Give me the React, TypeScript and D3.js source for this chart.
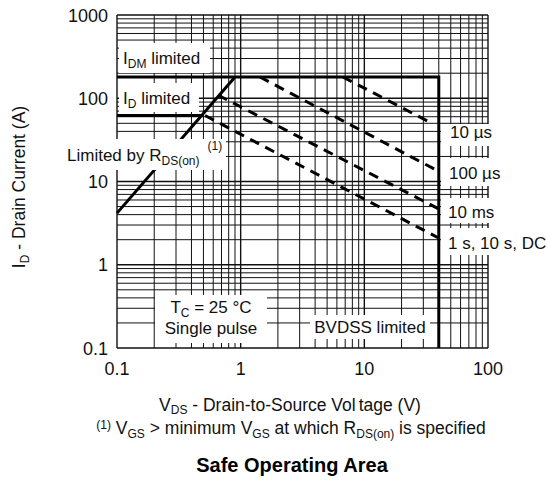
import React from "react";
import * as d3 from "d3";

// axis ticks
const xTickValues = [0.1, 1, 10, 100];
const yTickValues = [0.1, 1, 10, 100, 1000];

// limits
const idmLimit = 180; // A
const idLimit = 62; // A
const bvdss = 40; // V
const rdsV = [0.1, 0.9];
const rdsI = [4.17, 180];

// pulse lines (single pulse, Tc = 25 C)
const pulseLabels = ["10 µs", "100 µs", "10 ms", "1 s, 10 s, DC"];
const pulseStartV = [6.7, 1.43, 0.656, 0.515];
const pulseStartI = [180, 180, 109, 62];
const pulseEndV = [35.2, 38.6, 39.5, 39.5];
const pulseEndI = [50, 13.6, 4.73, 2.11];

const FONT = "'Liberation Sans', Arial, sans-serif";

const App = () => {
  const W = 548;
  const H = 481;
  const x = d3.scaleLog().domain([0.1, 100]).range([117, 488]);
  const y = d3.scaleLog().domain([0.1, 1000]).range([348, 15]);
  const line = d3
    .line<[number, number]>()
    .x((d) => x(d[0]))
    .y((d) => y(d[1]));

  const isDecade = (v: number) =>
    Math.abs(Math.log10(v) - Math.round(Math.log10(v))) < 1e-6;

  // where the I_D limit meets the R_DS(on) line
  const lv0 = Math.log10(rdsV[0]);
  const lv1 = Math.log10(rdsV[1]);
  const li0 = Math.log10(rdsI[0]);
  const li1 = Math.log10(rdsI[1]);
  const idCross = Math.pow(10, lv0 + ((Math.log10(idLimit) - li0) * (lv1 - lv0)) / (li1 - li0));

  const idPath = line([
    [0.1, idLimit],
    [idCross, idLimit],
  ]);
  const idmPath = line([
    [0.1, idmLimit],
    [bvdss, idmLimit],
    [bvdss, 0.1],
  ]);
  const rdsPath = line([
    [rdsV[0], rdsI[0]],
    [rdsV[1], rdsI[1]],
  ]);

  // white label boxes [x, y, w, h]
  const boxes = [
    [119, 43, 91, 30],
    [119, 83, 80, 29],
    [60, 139, 166, 31],
    [155, 295, 112, 48],
    [310, 315, 120, 24],
    [441, 124, 60, 22],
    [441, 158, 70, 28],
    [441, 198, 60, 25],
    [441, 228, 107, 27],
  ];
  const labelPos = [
    [450, 138],
    [449, 179],
    [448, 218],
    [448, 249],
  ];

  const fs = 17;
  const sub = 12;

  return (
    <div style={{ position: "absolute", left: 0, top: 0 }}>
      <svg width={W} height={H} style={{ display: "block", background: "#fff" }}>
        {/* grid */}
        <g>
          {x.ticks().map((t, i) => (
            <line
              key={"gx" + i}
              x1={x(t)}
              x2={x(t)}
              y1={y(0.1)}
              y2={y(1000)}
              stroke="#111"
              strokeWidth={isDecade(t) ? 1.4 : 1}
            />
          ))}
          {y.ticks().map((t, i) => (
            <line
              key={"gy" + i}
              x1={x(0.1)}
              x2={x(100)}
              y1={y(t)}
              y2={y(t)}
              stroke="#111"
              strokeWidth={isDecade(t) ? 1.4 : 1}
            />
          ))}
        </g>

        {/* limits */}
        <g fill="none" stroke="#000" strokeWidth={3}>
          <path d={idPath ?? ""} />
          <path d={idmPath ?? ""} />
          <path d={rdsPath ?? ""} />
        </g>
        <g fill="none" stroke="#000" strokeWidth={3} strokeDasharray="10,7">
          {pulseLabels.map((l, i) => (
            <path
              key={l}
              d={
                line([
                  [pulseStartV[i], pulseStartI[i]],
                  [pulseEndV[i], pulseEndI[i]],
                ]) ?? ""
              }
            />
          ))}
        </g>

        {/* label boxes */}
        {boxes.map((b, i) => (
          <rect key={"b" + i} x={b[0]} y={b[1]} width={b[2]} height={b[3]} fill="#fff" />
        ))}

        <g fontFamily={FONT} fill="#111" fontSize={fs}>
          <text x={123} y={64}>
            I<tspan fontSize={sub} dy={4}>DM</tspan>
            <tspan dy={-4}> limited</tspan>
          </text>
          <text x={123} y={104}>
            I<tspan fontSize={sub} dy={4}>D</tspan>
            <tspan dy={-4}> limited</tspan>
          </text>
          <text x={67} y={161}>
            Limited by R<tspan fontSize={sub} dy={4}>DS(on)</tspan>
            <tspan fontSize={sub} dy={-15} dx={8}>
              (1)
            </tspan>
          </text>
          <text x={211} y={313} textAnchor="middle">
            T<tspan fontSize={sub} dy={4}>C</tspan>
            <tspan dy={-4}> = 25 °C</tspan>
          </text>
          <text x={211} y={334} textAnchor="middle">
            Single pulse
          </text>
          <text x={370} y={333} textAnchor="middle">
            BVDSS limited
          </text>
          {pulseLabels.map((l, i) => (
            <text key={"pl" + i} x={labelPos[i][0]} y={labelPos[i][1]}>
              {l}
            </text>
          ))}
        </g>

        {/* tick labels */}
        <g fontFamily={FONT} fill="#111" fontSize={18}>
          {yTickValues.map((t) => (
            <text key={"yt" + t} x={108} y={y(t) + 6.5} textAnchor="end">
              {String(t)}
            </text>
          ))}
          {xTickValues.map((t) => (
            <text key={"xt" + t} x={x(t)} y={375} textAnchor="middle">
              {String(t)}
            </text>
          ))}
        </g>

        {/* axis titles */}
        <g fontFamily={FONT} fill="#111" fontSize={17.5}>
          <text transform="translate(25,187) rotate(-90)" textAnchor="middle">
            I<tspan fontSize={sub} dy={4}>D</tspan>
            <tspan dy={-4}> - Drain Current (A)</tspan>
          </text>
          <text x={290} y={411} textAnchor="middle">
            V<tspan fontSize={sub} dy={3}>DS</tspan>
            <tspan dy={-3}> - Drain-to-Source Vol</tspan>
            <tspan dx={3}>tage (V)</tspan>
          </text>
          <text x={291} y={434} textAnchor="middle">
            <tspan fontSize={sub} dy={-5}>(1)</tspan>
            <tspan dy={5}> V</tspan>
            <tspan fontSize={sub} dy={4}>GS</tspan>
            <tspan dy={-4}> &gt; minimum V</tspan>
            <tspan fontSize={sub} dy={4}>GS</tspan>
            <tspan dy={-4}> at which R</tspan>
            <tspan fontSize={sub} dy={4}>DS(on)</tspan>
            <tspan dy={-4}> is specified</tspan>
          </text>
        </g>
        <text
          x={292}
          y={472}
          textAnchor="middle"
          fontFamily={FONT}
          fontWeight="bold"
          fontSize={20}
          fill="#000"
        >
          Safe Operating Area
        </text>
      </svg>
    </div>
  );
};

export default App;
